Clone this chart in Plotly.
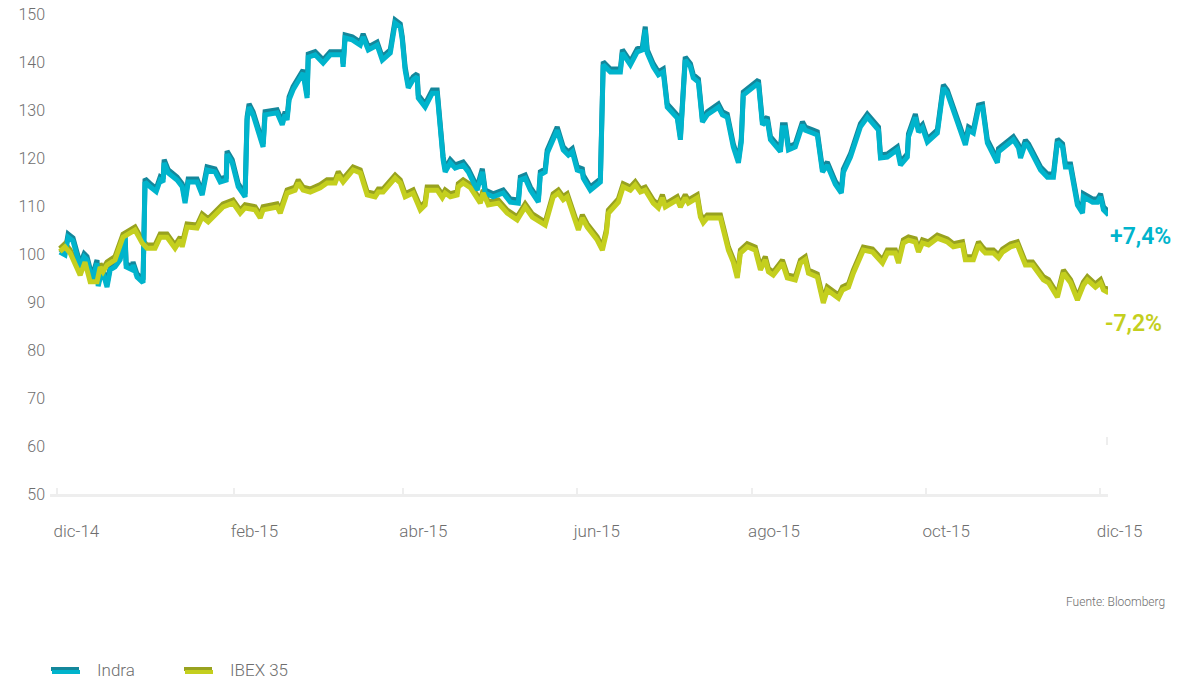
import pandas as pd
import plotly.graph_objects as go

# ---- data (day offsets from 2014-12-01, index base 100) ----
start_date = "2014-12-01"

indra_days = [1.0, 2.8, 3.9, 5.6, 8.1, 9.5, 10.5, 12.3, 14.0, 14.4, 15.8, 17.5, 18.6, 20.3, 22.1, 23.8, 24.2,
              26.3, 26.6, 28.0, 30.1, 30.8, 32.6, 34.7, 36.1, 37.1, 37.5, 38.9, 42.0, 43.8, 44.8, 45.9, 49.0,
              50.8, 52.5, 55.3, 57.1, 59.2, 59.5, 61.3, 63.4, 65.8, 66.5, 67.2, 68.6, 72.1, 72.8, 77.0, 78.8,
              79.8, 80.5, 81.2, 82.6, 86.1, 87.5, 87.9, 90.3, 93.1, 95.6, 99.8, 100.1, 100.8, 103.3, 106.1,
              107.1, 108.9, 112.0, 113.8, 116.6, 118.3, 120.1, 120.8, 121.8, 122.9, 124.6, 126.0, 126.4,
              128.8, 131.3, 133.0, 135.1, 135.8, 137.6, 139.3, 142.1, 143.9, 147.0, 148.8, 149.8, 152.6,
              156.1, 158.6, 161.4, 162.1, 163.8, 165.6, 168.4, 169.1, 170.8, 171.5, 175.0, 177.1, 178.9,
              180.3, 182.0, 183.8, 184.1, 186.6, 190.1, 191.1, 193.6, 197.1, 197.8, 200.6, 203.0, 204.8,
              205.8, 206.5, 208.6, 210.4, 212.1, 213.5, 217.0, 218.1, 219.8, 221.6, 222.6, 224.4, 225.8,
              227.5, 231.4, 232.8, 234.5, 236.6, 238.4, 239.4, 240.1, 245.4, 246.8, 248.5, 249.6, 253.1,
              253.8, 254.8, 255.9, 258.3, 260.8, 261.8, 264.3, 266.0, 267.8, 269.5, 270.6, 272.3, 274.4,
              275.1, 277.6, 281.1, 283.5, 287.4, 288.1, 290.5, 294.0, 295.1, 297.5, 297.9, 300.3, 301.4,
              302.8, 304.5, 308.0, 310.1, 311.5, 315.0, 317.8, 318.9, 320.6, 322.4, 323.8, 325.5, 329.0,
              329.4, 334.6, 336.4, 337.1, 338.8, 339.9, 344.1, 346.5, 348.6, 350.0, 351.8, 352.8, 354.6,
              357.0, 358.8, 359.1, 362.3, 364.0, 365.1, 366.1, 367.9]
indra_values = [100.4, 99.8, 103.5, 102.7, 97.3, 99.4, 98.8, 94.6, 98.1, 93.3, 96.7, 93.1, 96.7, 97.3, 98.8,
                103.5, 97.3, 96.7, 97.7, 95.2, 94.0, 115.0, 114.0, 113.0, 115.4, 115.0, 119.0, 116.9, 115.4,
                114.0, 110.6, 115.0, 115.0, 112.3, 117.5, 117.1, 115.0, 115.4, 120.8, 119.0, 114.0, 111.9,
                127.9, 130.6, 129.0, 122.3, 129.0, 129.4, 126.9, 129.0, 127.9, 132.1, 134.2, 137.7, 132.5,
                141.0, 141.5, 139.8, 141.5, 141.5, 139.0, 145.0, 144.6, 143.5, 145.2, 142.5, 143.5, 140.4,
                141.9, 148.1, 147.3, 144.6, 138.3, 134.6, 136.3, 136.9, 132.5, 130.6, 133.5, 133.5, 119.6,
                117.1, 119.0, 117.9, 118.5, 117.1, 113.3, 117.1, 112.7, 111.9, 112.7, 110.8, 110.6, 115.4,
                115.8, 113.3, 110.8, 116.5, 117.1, 121.0, 125.8, 121.7, 120.6, 121.3, 117.5, 117.1, 115.8,
                113.3, 115.0, 139.4, 137.9, 137.9, 141.9, 139.4, 142.1, 142.5, 146.7, 141.9, 139.0, 137.3,
                137.9, 130.6, 128.3, 123.8, 140.4, 139.0, 136.7, 135.8, 127.5, 129.0, 130.6, 129.0, 128.5,
                122.3, 119.0, 123.3, 133.1, 135.6, 126.9, 127.9, 123.8, 121.3, 126.3, 126.3, 121.7, 122.3,
                126.9, 125.8, 125.2, 124.8, 117.1, 118.5, 116.9, 114.5, 112.7, 117.0, 120.2, 126.5, 128.5,
                125.8, 120.0, 120.2, 121.7, 118.5, 120.2, 124.4, 128.5, 125.4, 126.3, 123.3, 125.2, 134.6,
                133.5, 127.9, 122.7, 125.8, 125.2, 130.4, 130.6, 123.1, 119.0, 121.3, 123.8, 122.1, 120.0,
                123.1, 122.3, 117.5, 116.0, 116.0, 123.3, 122.3, 118.1, 118.1, 110.2, 108.5, 111.9, 110.8,
                110.8, 111.9, 109.2, 108.1]

ibex_days = [1.0, 2.8, 4.6, 8.1, 9.8, 11.6, 14.0, 15.1, 16.1, 17.5, 20.3, 23.1, 27.3, 29.8, 31.5, 34.3, 36.1,
             38.5, 41.3, 43.1, 43.8, 45.5, 49.0, 50.8, 52.9, 56.0, 58.1, 61.6, 64.1, 65.8, 69.3, 71.1, 72.1,
             77.0, 78.1, 80.5, 83.3, 84.4, 86.1, 88.6, 92.1, 94.5, 97.3, 98.4, 100.1, 103.6, 106.1, 108.5,
             111.3, 112.4, 114.1, 118.3, 120.1, 121.8, 124.6, 127.1, 128.8, 129.5, 133.0, 134.8, 135.8,
             137.6, 140.0, 140.4, 142.1, 144.6, 148.1, 149.1, 150.9, 154.4, 157.5, 161.0, 163.8, 166.3,
             169.1, 170.8, 173.6, 175.4, 177.1, 178.5, 182.4, 183.8, 185.5, 189.0, 190.8, 192.2, 192.9,
             194.6, 196.4, 198.1, 200.6, 202.3, 204.1, 205.8, 208.6, 210.4, 211.8, 212.8, 215.3, 217.0,
             218.1, 219.8, 220.9, 224.0, 225.1, 226.1, 227.5, 232.1, 234.9, 236.6, 238.0, 239.1, 241.5,
             244.3, 246.1, 247.8, 248.9, 250.6, 253.8, 255.5, 258.3, 260.1, 261.8, 262.9, 266.0, 268.1,
             269.5, 270.6, 273.4, 274.8, 276.9, 278.6, 282.1, 285.3, 287.4, 288.8, 290.5, 293.3, 294.4,
             296.1, 297.9, 300.3, 301.4, 302.8, 304.9, 308.0, 311.5, 313.6, 316.8, 317.8, 320.6, 322.4,
             323.8, 324.8, 327.6, 329.4, 330.8, 333.6, 336.0, 338.8, 341.3, 343.4, 345.1, 346.9, 350.0,
             352.1, 354.6, 357.0, 359.1, 360.5, 363.3, 365.1, 366.1, 367.9]
ibex_values = [100.5, 101.5, 100.2, 95.6, 98.3, 94.2, 94.2, 97.3, 96.3, 97.7, 98.8, 103.5, 105.0, 102.3, 101.2,
               101.2, 103.5, 103.5, 101.2, 102.9, 101.5, 105.6, 105.4, 107.7, 106.7, 108.5, 109.8, 110.6,
               108.5, 109.6, 109.2, 107.5, 109.2, 109.8, 108.5, 112.7, 113.3, 114.8, 113.3, 112.9, 113.8,
               114.8, 114.8, 116.5, 115.0, 117.5, 116.9, 112.3, 111.9, 112.9, 112.9, 115.8, 114.8, 111.9,
               112.7, 109.2, 110.2, 113.3, 113.3, 111.7, 112.7, 111.9, 112.3, 114.0, 114.8, 113.8, 110.6,
               112.7, 110.2, 110.6, 108.5, 107.1, 109.8, 107.7, 106.5, 106.0, 111.9, 112.7, 111.3, 111.9,
               105.0, 107.5, 105.6, 102.9, 100.8, 104.4, 108.5, 109.8, 110.8, 114.0, 113.3, 114.4, 112.9,
               113.3, 110.6, 109.6, 111.7, 109.8, 110.8, 111.3, 109.8, 111.7, 110.6, 111.7, 107.7, 106.5,
               107.5, 107.5, 100.8, 98.3, 95.0, 100.2, 101.5, 100.8, 96.7, 98.8, 96.3, 95.6, 98.1, 95.0,
               94.6, 98.1, 98.8, 96.0, 95.2, 89.8, 92.5, 92.1, 90.8, 92.5, 93.1, 96.0, 100.8, 100.4, 98.8,
               98.1, 100.2, 100.2, 98.1, 102.3, 102.9, 102.5, 100.4, 102.3, 101.9, 103.3, 102.5, 101.5,
               101.9, 98.8, 98.8, 101.9, 100.8, 100.2, 100.2, 99.2, 100.4, 101.5, 101.9, 97.7, 97.7, 96.0,
               94.6, 94.0, 91.0, 96.0, 94.0, 90.4, 93.5, 94.6, 93.1, 94.0, 92.5, 91.9]

series_names = ["Indra", "IBEX 35"]
end_labels = ["+7,4%", "-7,2%"]
tick_dates = ["2014-12-01", "2015-02-01", "2015-04-01", "2015-06-01", "2015-08-01", "2015-10-01", "2015-12-01"]
tick_labels = ["dic-14", "feb-15", "abr-15", "jun-15", "ago-15", "oct-15", "dic-15"]
y_ticks = [50, 60, 70, 80, 90, 100, 110, 120, 130, 140, 150]
source_text = "Fuente: Bloomberg"

# ---- styles ----
INDRA_LIGHT, INDRA_DARK = "#00b4cc", "#14879b"
IBEX_LIGHT, IBEX_DARK = "#c4cf1e", "#98a21f"
FONT = "Roboto"
GRAY = "#6e6e6e"
SHIFT = 0.65  # shadow offset (data units, ~3px)
LW = 5
Y_LO, Y_HI = 50, 150

# page body margin (8px) is compensated: figure coords = screen coords - 8
OFF = 8
W, H = 1196 - OFF, 681 - OFF
PL, PR, PT, PB = 50 - OFF, 1108 - OFF, 14 - OFF, 494 - OFF  # plot area in figure px

base = pd.Timestamp(start_date)
indra_x = base + pd.to_timedelta(indra_days, unit="D")
ibex_x = base + pd.to_timedelta(ibex_days, unit="D")

fig = go.Figure()
# shadows on hidden axis y (shifted range so they draw a few px higher)
fig.add_trace(go.Scatter(x=indra_x, y=indra_values, mode="lines", yaxis="y",
                         line=dict(color=INDRA_DARK, width=LW), showlegend=False, hoverinfo="skip"))
fig.add_trace(go.Scatter(x=ibex_x, y=ibex_values, mode="lines", yaxis="y",
                         line=dict(color=IBEX_DARK, width=LW), showlegend=False, hoverinfo="skip"))
# main lines on y2
fig.add_trace(go.Scatter(x=indra_x, y=indra_values, mode="lines", yaxis="y2", name=series_names[0],
                         line=dict(color=INDRA_LIGHT, width=LW), showlegend=False))
fig.add_trace(go.Scatter(x=ibex_x, y=ibex_values, mode="lines", yaxis="y2", name=series_names[1],
                         line=dict(color=IBEX_LIGHT, width=LW), showlegend=False))

x_start = base - pd.Timedelta(days=2.45)
x_end = base + pd.Timedelta(days=367.7)

fig.update_layout(
    template="none",
    width=W, height=H,
    margin=dict(l=PL, r=W - PR, t=PT, b=H - PB, pad=0, autoexpand=False),
    paper_bgcolor="white", plot_bgcolor="white",
    font=dict(family=FONT, color=GRAY),
    showlegend=False,
    xaxis=dict(range=[x_start, x_end], tickvals=tick_dates, ticktext=tick_labels, automargin=False,
               showgrid=False, zeroline=False, showline=True, linecolor="#eeeeee", linewidth=3,
               ticks="inside", ticklen=6, tickwidth=2, tickcolor="#eeeeee",
               ticklabelposition="outside right", ticklabelstandoff=20, ticklabelshift=-6,
               ticklabeloverflow="allow",
               tickfont=dict(size=17, color=GRAY, family=FONT, weight=300)),
    yaxis=dict(range=[Y_LO - SHIFT, Y_HI - SHIFT], visible=False, showgrid=False, zeroline=False,
               automargin=False),
    yaxis2=dict(range=[Y_LO, Y_HI], overlaying="y", side="left", tickvals=y_ticks, automargin=False,
                showgrid=False, zeroline=False, showline=False, ticks="",
                ticklabelstandoff=4, ticklabeloverflow="allow",
                tickfont=dict(size=16, color=GRAY, family=FONT, weight=300)),
)

def px_to_paper_x(px):
    return (px - OFF - PL) / (PR - PL)

def py_to_paper_y(py):
    return (PB - (py - OFF)) / (PB - PT)

# end-of-series labels
fig.add_annotation(x=px_to_paper_x(1108), y=py_to_paper_y(236), xref="paper", yref="paper",
                   text=end_labels[0], showarrow=False, xanchor="left", yanchor="middle",
                   font=dict(size=23, color=INDRA_LIGHT, family=FONT, weight=600))
fig.add_annotation(x=px_to_paper_x(1103), y=py_to_paper_y(324), xref="paper", yref="paper",
                   text=end_labels[1], showarrow=False, xanchor="left", yanchor="middle",
                   font=dict(size=23, color=IBEX_LIGHT, family=FONT, weight=600))
# source
fig.add_annotation(x=px_to_paper_x(1167), y=py_to_paper_y(602), xref="paper", yref="paper",
                   text=source_text, showarrow=False, xanchor="right", yanchor="middle",
                   font=dict(size=12, color=GRAY, family=FONT, weight=300))

# manual legend
legend_items = [(series_names[0], INDRA_LIGHT, INDRA_DARK, 51, 95),
                (series_names[1], IBEX_LIGHT, IBEX_DARK, 184, 228)]
for name, light, dark, sx, tx in legend_items:
    fig.add_shape(type="line", xref="paper", yref="paper",
                  x0=px_to_paper_x(sx), x1=px_to_paper_x(sx + 28),
                  y0=py_to_paper_y(669), y1=py_to_paper_y(669),
                  line=dict(color=dark, width=4))
    fig.add_shape(type="line", xref="paper", yref="paper",
                  x0=px_to_paper_x(sx + 1), x1=px_to_paper_x(sx + 29),
                  y0=py_to_paper_y(672), y1=py_to_paper_y(672),
                  line=dict(color=light, width=4))
    fig.add_annotation(x=px_to_paper_x(tx), y=py_to_paper_y(670), xref="paper", yref="paper",
                       text=name, showarrow=False, xanchor="left", yanchor="middle",
                       font=dict(size=17, color=GRAY, family=FONT, weight=300))

# faint mark at right end
fig.add_shape(type="line", xref="paper", yref="paper",
              x0=px_to_paper_x(1107), x1=px_to_paper_x(1107),
              y0=py_to_paper_y(445), y1=py_to_paper_y(437),
              line=dict(color="#eeeeee", width=2))

fig.write_html("out.html")
